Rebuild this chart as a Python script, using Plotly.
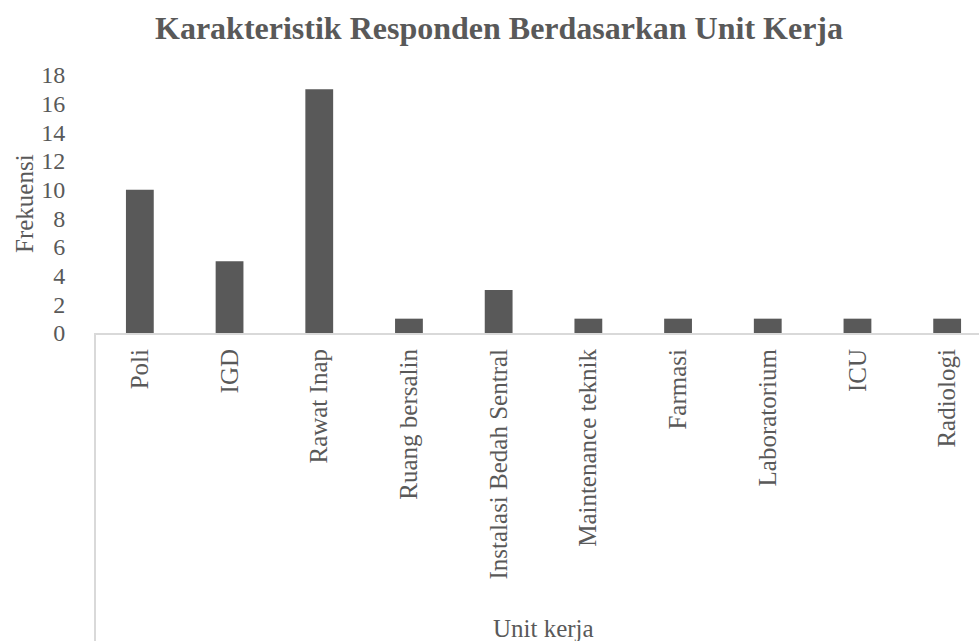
import plotly.graph_objects as go

categories = ["Poli", "IGD", "Rawat Inap", "Ruang bersalin", "Instalasi Bedah Sentral",
              "Maintenance teknik", "Farmasi", "Laboratorium", "ICU", "Radiologi"]
values = [10, 5, 17, 1, 3, 1, 1, 1, 1, 1]
y_ticks = [0, 2, 4, 6, 8, 10, 12, 14, 16, 18]

title_text = "Karakteristik Responden Berdasarkan Unit Kerja"
x_title = "Unit kerja"
y_title = "Frekuensi"

W, H = 979, 641
L, R, T, B = 95, 0, 75, 308
plot_h = H - T - B
plot_w = W - L - R

font_family = "Liberation Serif, Times New Roman, serif"
grey = "#595959"

fig = go.Figure(go.Bar(
    x=categories, y=values, marker=dict(color=grey, line=dict(width=0)),
    width=0.31,
))

fig.update_layout(
    width=W, height=H,
    margin=dict(l=L, r=R, t=T, b=B, autoexpand=False),
    paper_bgcolor="white", plot_bgcolor="white",
    showlegend=False,
    font=dict(family=font_family, color=grey, size=24),
    title=dict(text="<b>" + title_text + "</b>", x=499 / W, xanchor="center",
               y=1 - 28 / H, yanchor="middle",
               font=dict(family=font_family, size=32, color=grey)),
    xaxis=dict(
        range=[-0.5, 9.355], showgrid=False, zeroline=False, automargin=False,
        showline=True, linecolor="#d9d9d9", linewidth=2,
        tickangle=-90, ticks="outside", ticklen=4, tickcolor="rgba(0,0,0,0)",
        tickfont=dict(family=font_family, size=25, color=grey),
    ),
    yaxis=dict(
        range=[0, 18], tickvals=y_ticks, showgrid=False, zeroline=False,
        automargin=False,
        showline=False, ticks="outside", ticklen=24, tickcolor="rgba(0,0,0,0)",
        tickfont=dict(family=font_family, size=24, color=grey),
    ),
    shapes=[dict(type="line", xref="paper", yref="paper", x0=0, x1=0,
                 y0=0, y1=-(H - (T + plot_h)) / plot_h,
                 line=dict(color="#d9d9d9", width=2))],
    annotations=[
        dict(text=x_title, xref="paper", yref="paper", x=(543 - L) / plot_w,
             y=-(628 - (T + plot_h)) / plot_h, xanchor="center", yanchor="middle",
             showarrow=False, font=dict(family=font_family, size=25, color=grey)),
        dict(text=y_title, xref="paper", yref="paper", x=(24 - L) / plot_w,
             y=1 - (204 - T) / plot_h, xanchor="center", yanchor="middle", textangle=-90,
             showarrow=False, font=dict(family=font_family, size=25, color=grey)),
    ],
)

fig.write_html(
    "out.html",
    config={"displayModeBar": False, "staticPlot": True},
    post_script="document.documentElement.style.margin='0';document.body.style.margin='0';"
                "document.body.style.padding='0';document.body.style.overflow='hidden';",
)
